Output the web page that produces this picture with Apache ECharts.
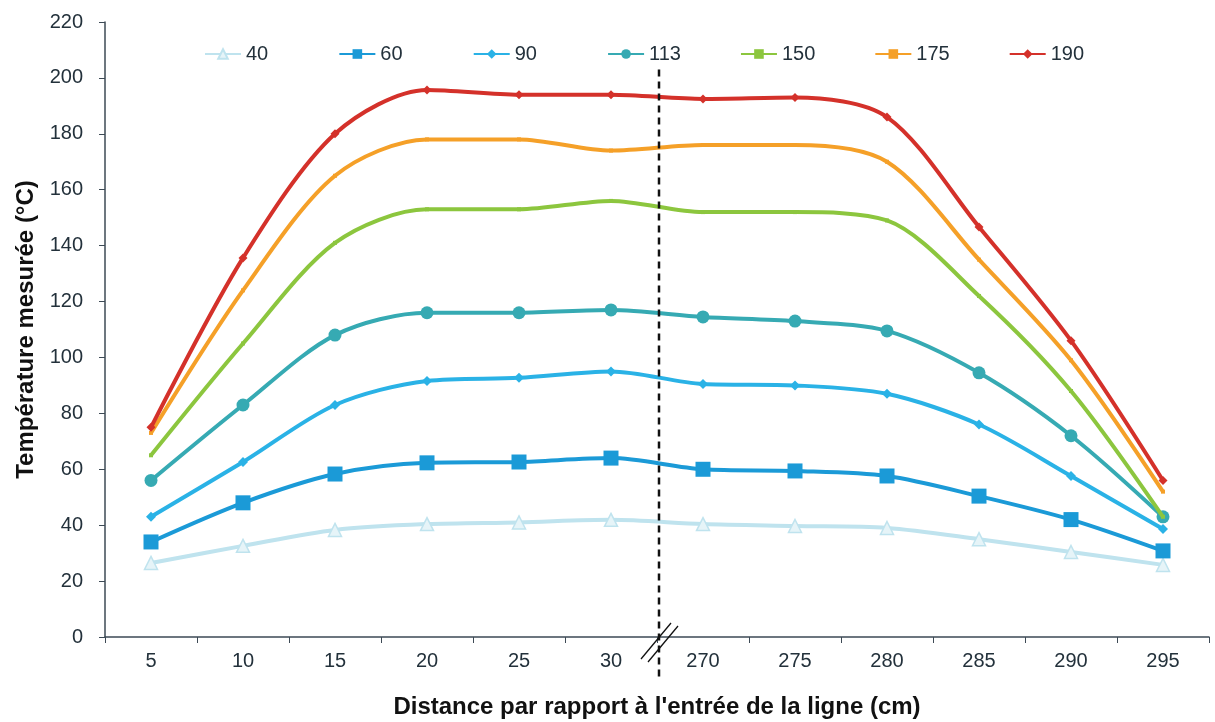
<!DOCTYPE html>
<html><head><meta charset="utf-8">
<script src="https://cdn.jsdelivr.net/npm/echarts@6/dist/echarts.min.js"></script>
<style>html,body{margin:0;padding:0;background:#fff}#c{width:1215px;height:722px}</style>
</head><body><div id="c"></div>
<script>
const categories = ['5','10','15','20','25','30','270','275','280','285','290','295'];
const s40  = [26.5,32.6,38.3,40.4,41,41.9,40.4,39.7,39,35,30.4,25.8];
const s60  = [34,48,58.3,62.3,62.6,64,60,59.4,57.6,50.4,42,30.8];
const s90  = [43,62.6,83,91.6,92.7,95,90.5,90,87,76,57.6,38.6];
const s113 = [56,83,108,116,116,117,114.5,113,109.5,94.5,72,43];
const s150 = [65,105,141,153,153,156,152,152,149,122,88,43];
const s175 = [73,124,165,178,178,174,176,176,170,135,99,52];
const s190 = [75,135.6,180,195.7,194,194,192.5,193,186,146.7,106,56];
const seriesNames = ['40','60','90','113','150','175','190'];
const yTicks = [0,20,40,60,80,100,120,140,160,180,200,220];

const font = '"Liberation Sans", Arial, sans-serif';
const txt = '#23313b';
const defs = [
  {data:s40, color:'#bfe3ee', symbol:'triangle', size:13, hollow:true},
  {data:s60, color:'#1b9ad7', symbol:'rect', size:15},
  {data:s90, color:'#2ab2e6', symbol:'diamond', size:10},
  {data:s113, color:'#36aab3', symbol:'circle', size:13},
  {data:s150, color:'#8cc63e', symbol:'rect', size:4},
  {data:s175, color:'#f5a028', symbol:'rect', size:4},
  {data:s190, color:'#d4312a', symbol:'diamond', size:9}
];
const series = defs.map((d,i)=>({
  name: seriesNames[i], type:'line', data:d.data, smooth:0.3,
  symbol:d.symbol, symbolSize:d.size, showSymbol:true,
  lineStyle:{color:d.color,width:4},
  itemStyle: d.hollow ? {color:'#e6f4f8',borderColor:d.color,borderWidth:1.5} : {color:d.color},
  z: 2+i
}));

const chart = echarts.init(document.getElementById('c'));
chart.setOption({
  animation:false,
  backgroundColor:'#fff',
  textStyle:{fontFamily:font},
  grid:{left:105,right:6,top:22,bottom:85,outerBoundsMode:'none',containLabel:false},
  legend:{
    top:39, left:199, itemGap:59, itemWidth:36, itemHeight:12,
    formatter: n => n.length < 3 ? n + '\u00a0\u00a0' : n,
    textStyle:{fontFamily:font,fontSize:20,color:txt},
    data:seriesNames
  },
  xAxis:[{
    type:'category', data:categories, boundaryGap:true,
    axisLine:{lineStyle:{color:'#3d4a55',width:1.5}},
    axisTick:{show:true,inside:false,length:6,lineStyle:{color:'#3d4a55'}},
    axisLabel:{fontFamily:font,fontSize:20,color:txt,margin:14},
    name:"Distance par rapport à l'entrée de la ligne (cm)",
    nameLocation:'middle', nameGap:58,
    nameTextStyle:{fontFamily:font,fontSize:24,fontWeight:'bold',color:'#111'}
  },{
    type:'value', min:0, max:12, show:false
  }],
  yAxis:{
    type:'value', min:0, max:220, interval:20,
    axisLine:{show:true,lineStyle:{color:'#3d4a55',width:1.5}},
    axisTick:{show:true,length:6,lineStyle:{color:'#3d4a55'}},
    splitLine:{show:false},
    axisLabel:{fontFamily:font,fontSize:20,color:txt,margin:22,
      formatter:v=>yTicks.includes(v)?String(v):''},
    name:'Température mesurée (°C)', nameLocation:'middle', nameGap:66,
    nameTextStyle:{fontFamily:font,fontSize:24,fontWeight:'bold',color:'#111'}
  },
  series: series
});

// dashed break line and break marks positioned through the axis scales
const xBreak = chart.convertToPixel({xAxisIndex:1}, 6);
const yTop = chart.convertToPixel({yAxisIndex:0}, 203);
const y0 = chart.convertToPixel({yAxisIndex:0}, 0);
chart.setOption({
  graphic:[
    {type:'line', shape:{x1:xBreak+2,y1:yTop,x2:xBreak+2,y2:y0+42},
     style:{stroke:'#111',lineWidth:2.5,lineDash:[7,5]}, z:20},
    {type:'line', shape:{x1:xBreak-16,y1:y0+22,x2:xBreak+14,y2:y0-14},
     style:{stroke:'#111',lineWidth:1.3}, z:21},
    {type:'line', shape:{x1:xBreak-9,y1:y0+25,x2:xBreak+21,y2:y0-11},
     style:{stroke:'#111',lineWidth:1.3}, z:21}
  ]
});
</script></body></html>
